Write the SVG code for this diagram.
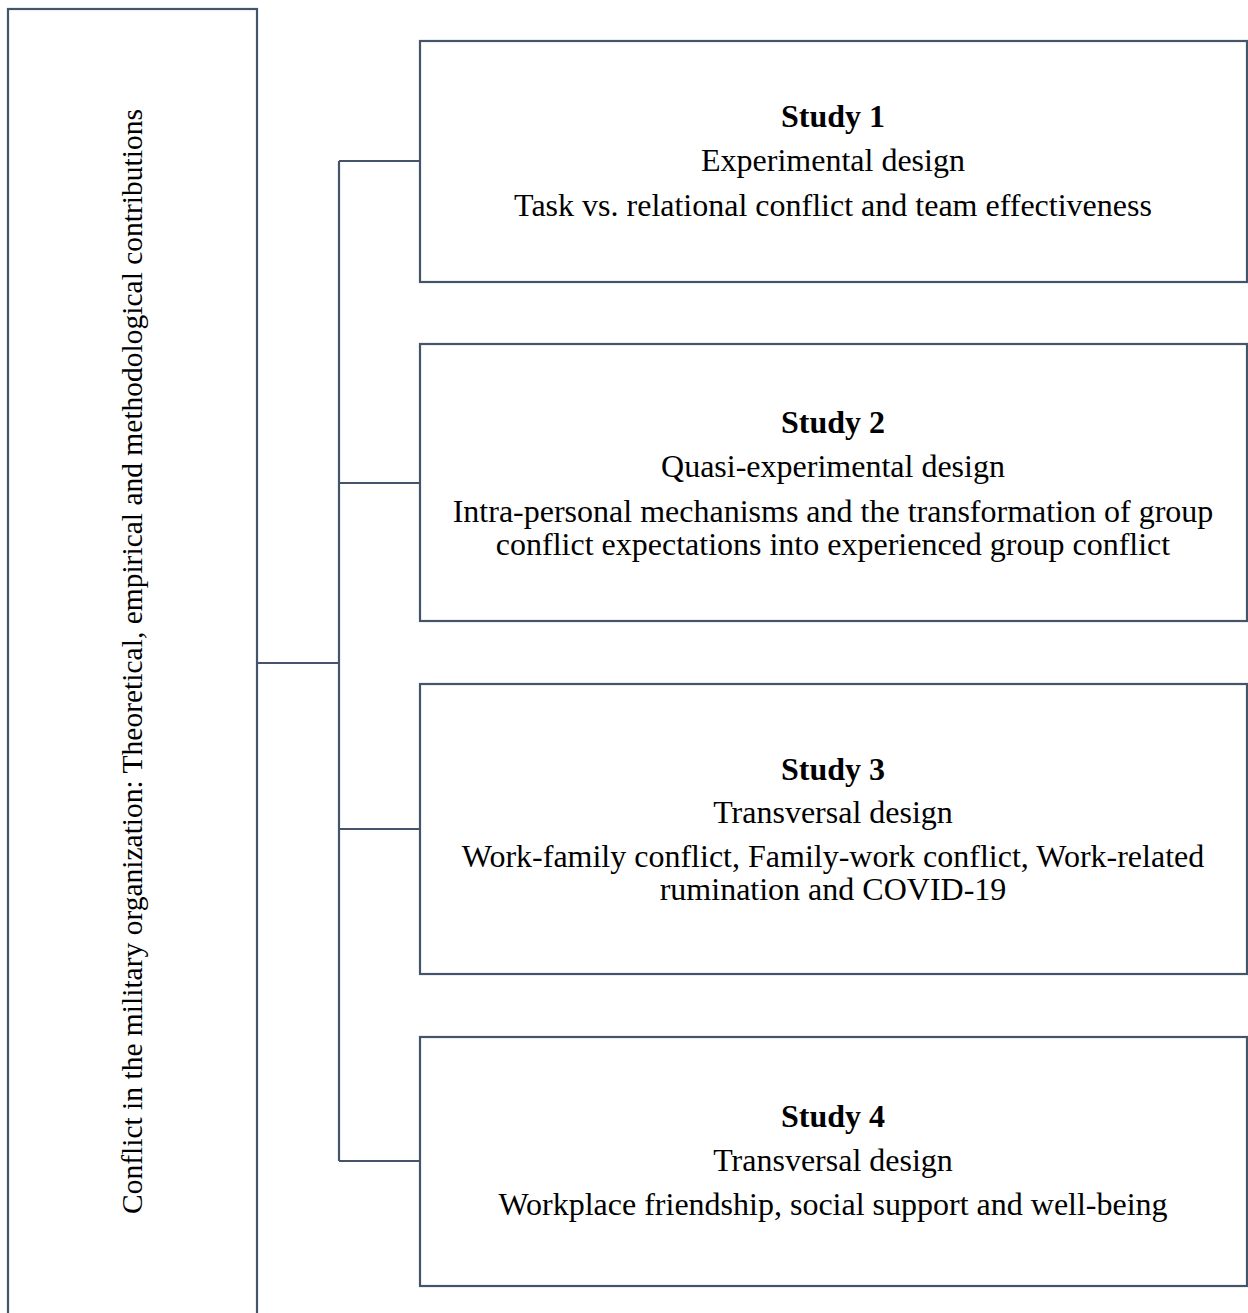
<svg xmlns="http://www.w3.org/2000/svg" width="1248" height="1313" viewBox="0 0 1248 1313">
<defs>
<style>
.box{fill:#ffffff;stroke:#44546A;stroke-width:2.2}
.conn{fill:none;stroke:#44546A;stroke-width:2.2}
</style>
</defs>
<rect width="1248" height="1313" fill="#ffffff"/>
<g font-family="'Liberation Serif', 'Times New Roman', serif" font-size="32" fill="#000000" text-anchor="middle">
<g id="main">
<rect class="box" x="8" y="9" width="249" height="1320"/>
<text transform="translate(142,661.5) rotate(-90)" font-size="29.5">Conflict in the military organization: Theoretical, empirical and methodological contributions</text>
</g>
<g id="connectors">
<path class="conn" d="M257,663 H339 M339,161 V1161 M339,161 H420 M339,483 H420 M339,829 H420 M339,1161 H420"/>
</g>
<g id="study1">
<rect class="box" x="420" y="41" width="827" height="241"/>
<text font-weight="bold" x="833" y="127">Study 1</text>
<text x="833" y="171">Experimental design</text>
<text x="833" y="216">Task vs. relational conflict and team effectiveness</text>
</g>
<g id="study2">
<rect class="box" x="420" y="344" width="827" height="277"/>
<text font-weight="bold" x="833" y="433">Study 2</text>
<text x="833" y="477">Quasi-experimental design</text>
<text x="833" y="522">Intra-personal mechanisms and the transformation of group</text>
<text x="833" y="555">conflict expectations into experienced group conflict</text>
</g>
<g id="study3">
<rect class="box" x="420" y="684" width="827" height="290"/>
<text font-weight="bold" x="833" y="780">Study 3</text>
<text x="833" y="823">Transversal design</text>
<text x="833" y="867">Work-family conflict, Family-work conflict, Work-related</text>
<text x="833" y="900">rumination and COVID-19</text>
</g>
<g id="study4">
<rect class="box" x="420" y="1037" width="827" height="249"/>
<text font-weight="bold" x="833" y="1127">Study 4</text>
<text x="833" y="1171">Transversal design</text>
<text x="833" y="1215">Workplace friendship, social support and well-being</text>
</g>
</g>
</svg>
